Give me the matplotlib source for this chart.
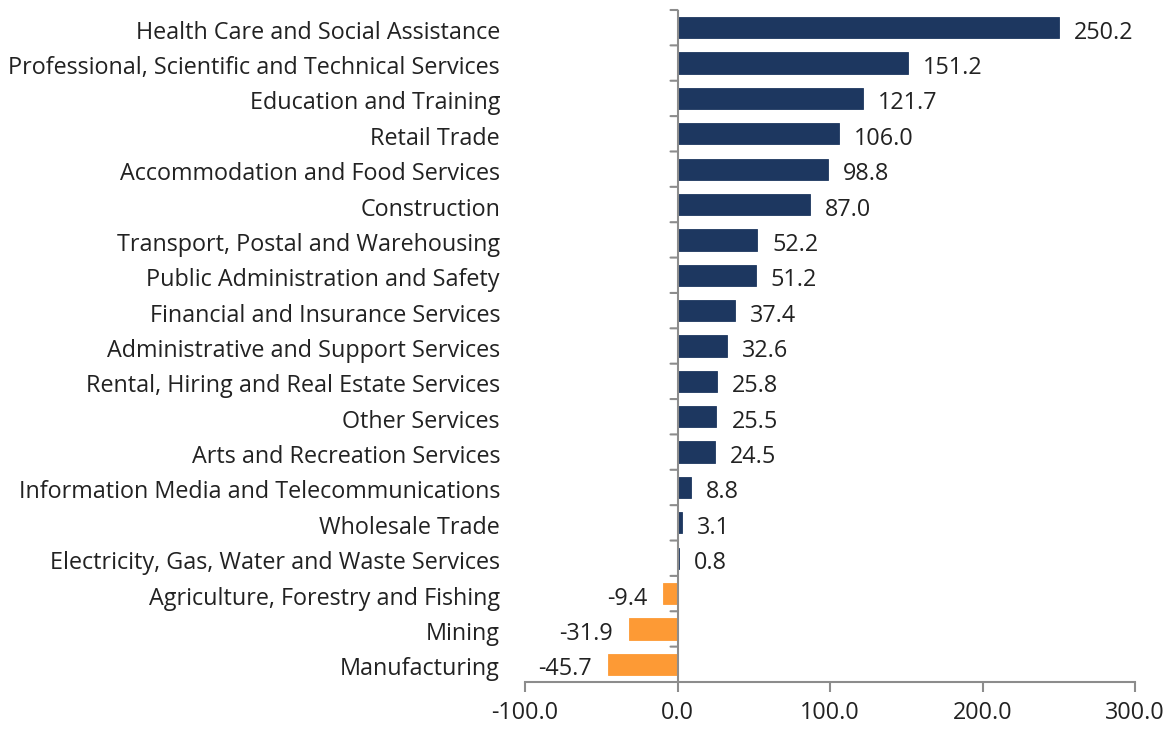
import matplotlib
matplotlib.use("Agg")
import matplotlib.pyplot as plt
import matplotlib.transforms as mtransforms

plt.rcParams['font.family'] = ['Open Sans', 'DejaVu Sans']

industries = [
    "Health Care and Social Assistance",
    "Professional, Scientific and Technical Services",
    "Education and Training",
    "Retail Trade",
    "Accommodation and Food Services",
    "Construction",
    "Transport, Postal and Warehousing",
    "Public Administration and Safety",
    "Financial and Insurance Services",
    "Administrative and Support Services",
    "Rental, Hiring and Real Estate Services",
    "Other Services",
    "Arts and Recreation Services",
    "Information Media and Telecommunications",
    "Wholesale Trade",
    "Electricity, Gas, Water and Waste Services",
    "Agriculture, Forestry and Fishing",
    "Mining",
    "Manufacturing",
]
change = [250.2, 151.2, 121.7, 106.0, 98.8, 87.0, 52.2, 51.2, 37.4, 32.6,
          25.8, 25.5, 24.5, 8.8, 3.1, 0.8, -9.4, -31.9, -45.7]
x_ticks = [-100, 0, 100, 200, 300]

NAVY = "#1d3760"
ORANGE = "#fd9a35"
AXIS_GREY = "#8c8c8c"
TEXT = "#222222"
FS = 16.8

fig = plt.figure(figsize=(11.71, 7.29), dpi=100)
ax = fig.add_axes([525 / 1171, 1 - 682 / 729, 610 / 1171, 672 / 729])

n = len(industries)
ypos = list(range(n))
colors = [NAVY if v >= 0 else ORANGE for v in change]
ax.barh(ypos, change, height=0.6, color=colors, edgecolor=colors, linewidth=0.6)

ax.set_ylim(n - 0.5, -0.5)
ax.set_xlim(x_ticks[0], x_ticks[-1])

# value labels next to the end of each bar
offset = mtransforms.offset_copy
for y, v in zip(ypos, change):
    if v >= 0:
        tr = offset(ax.transData, fig=fig, x=15, y=-2, units='dots')
        ax.text(v, y, f"{v:.1f}", transform=tr, ha='left',
                va='center_baseline', fontsize=FS, color=TEXT)
    else:
        tr = offset(ax.transData, fig=fig, x=-16, y=-2, units='dots')
        ax.text(v, y, f"{v:.1f}", transform=tr, ha='right',
                va='center_baseline', fontsize=FS, color=TEXT)

# category labels sit to the left of the plotting area
ax.set_yticks(ypos)
ax.set_yticklabels(industries, fontsize=FS, color=TEXT)
ax.tick_params(axis='y', length=0, pad=18)
shift_down = mtransforms.ScaledTranslation(0, -2 / 100, fig.dpi_scale_trans)
for lbl in ax.get_yticklabels():
    lbl.set_transform(lbl.get_transform() + shift_down)

ax.set_xticks(x_ticks)
ax.set_xticklabels([f"{t:.1f}" for t in x_ticks], fontsize=FS, color=TEXT)
ax.tick_params(axis='x', direction='out', length=7, width=1.5,
               color=AXIS_GREY, pad=7)

for side in ('top', 'right', 'left'):
    ax.spines[side].set_visible(False)
ax.spines['bottom'].set_color(AXIS_GREY)
ax.spines['bottom'].set_linewidth(1.5)

# vertical zero axis with category-boundary ticks
ax.axvline(0, color=AXIS_GREY, linewidth=1.5, zorder=3)
for b in [i - 0.5 for i in range(n)]:
    ax.annotate("", xy=(0, b), xycoords='data',
                xytext=(-7, 0), textcoords='offset pixels',
                arrowprops=dict(arrowstyle='-', color=AXIS_GREY, lw=1.5,
                                shrinkA=0, shrinkB=0))

fig.savefig("out.png", dpi=100, facecolor="white")
